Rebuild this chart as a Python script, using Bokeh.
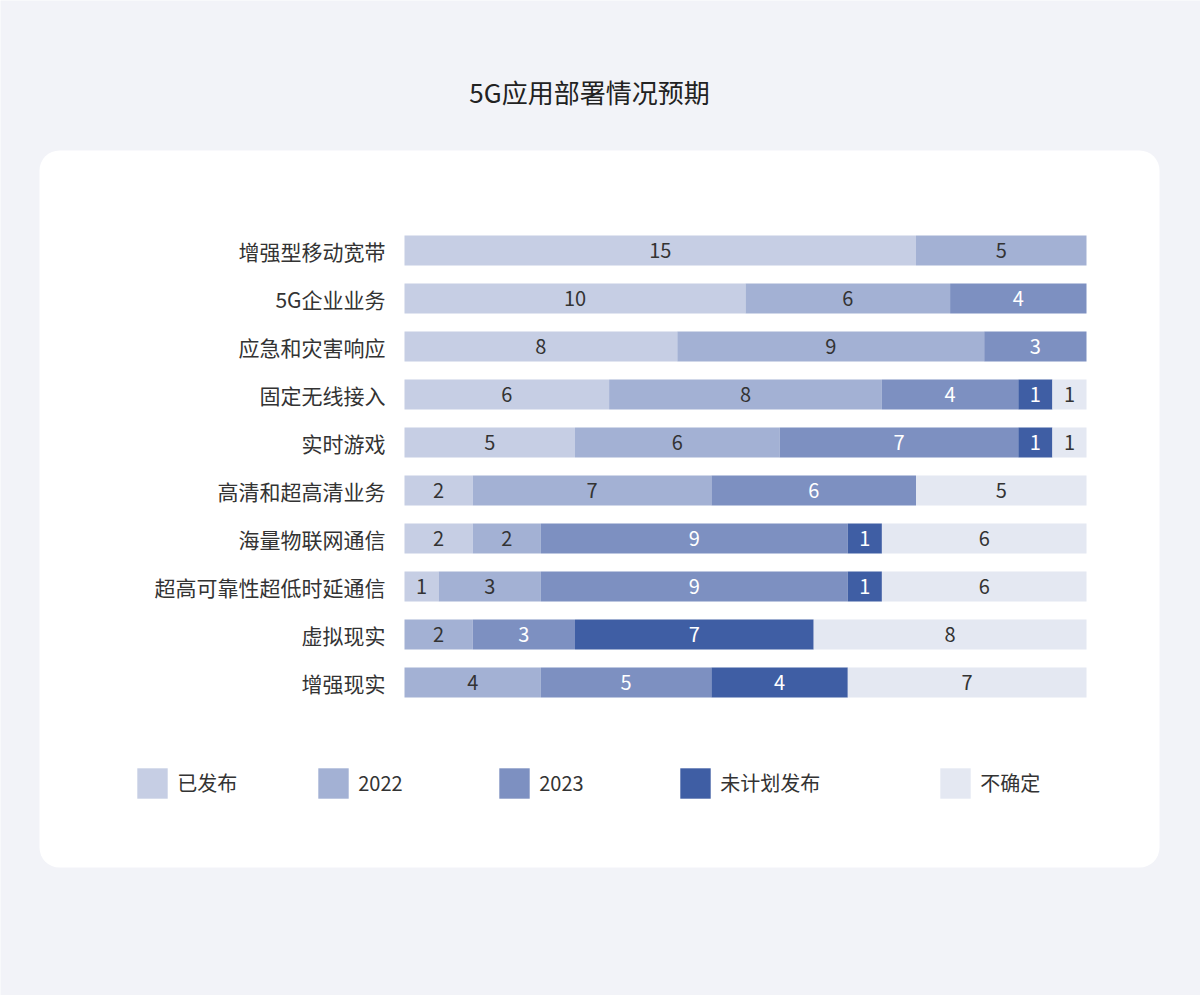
from bokeh.plotting import figure
from bokeh.models import ColumnDataSource, Range1d, BoxAnnotation, Label, Legend, LegendItem
from bokeh.core.properties import value
from bokeh.embed import file_html
from bokeh.resources import INLINE

FONT = "Noto Sans CJK SC"

categories = ["增强型移动宽带", "5G企业业务", "应急和灾害响应", "固定无线接入", "实时游戏",
              "高清和超高清业务", "海量物联网通信", "超高可靠性超低时延通信", "虚拟现实", "增强现实"]
series = ["已发布", "2022", "2023", "未计划发布", "不确定"]
released = [15, 10, 8, 6, 5, 2, 2, 1, 0, 0]
y2022 = [5, 6, 9, 8, 6, 7, 2, 3, 2, 4]
y2023 = [0, 4, 3, 4, 7, 6, 9, 9, 3, 5]
unplanned = [0, 0, 0, 1, 1, 0, 1, 1, 7, 4]
uncertain = [0, 0, 0, 1, 1, 5, 6, 6, 8, 7]
colors = ["#c6cee4", "#a3b1d4", "#7d90c1", "#3f5ea4", "#e4e8f2"]
text_colors = ["#333333", "#333333", "#ffffff", "#ffffff", "#333333"]
title_text = "5G应用部署情况预期"

# layout (pixels)
W, H = 1200, 995
BAR_LEFT, BAR_RIGHT, X_MAX = 404, 1086, 20
ROW0, ROW_STEP = 250, 48
ppu = (BAR_RIGHT - BAR_LEFT) / X_MAX

values = [released, y2022, y2023, unplanned, uncertain]
data = {"cat": categories, "pos": list(range(len(categories)))}
for s, v in zip(series, values):
    data[s] = v
source = ColumnDataSource(data)

x_range = Range1d((0 - BAR_LEFT) / ppu, (W - BAR_LEFT) / ppu)
y_range = Range1d((H - ROW0) / ROW_STEP, (0 - ROW0) / ROW_STEP)

p = figure(width=W, height=H, output_backend="svg", toolbar_location=None, title=None,
           x_range=x_range, y_range=y_range, x_axis_location=None, y_axis_location=None,
           min_border=0)
p.background_fill_color = "#f2f3f8"
p.border_fill_color = "#f2f3f8"
p.outline_line_color = None
p.grid.visible = False

# card
card = BoxAnnotation(left=39, right=1159, top=H - 150, bottom=H - 867,
                     left_units="screen", right_units="screen", top_units="screen", bottom_units="screen",
                     fill_color="#ffffff", fill_alpha=1.0, line_color=None, border_radius=20, level="underlay")
p.add_layout(card)

renderers = p.hbar_stack(series, y="pos", height=0.625, color=colors, line_color=None, source=source)

# category labels
p.text(x=0, y="pos", text="cat", source=source, x_offset=-19, text_align="right", text_baseline="middle",
       text_font=value(FONT), text_font_size="21px", text_color="#333333")

# segment labels
lx, ly, lt, lc = [], [], [], []
for i in range(len(categories)):
    start = 0
    for k, v in enumerate(values):
        val = v[i]
        if val > 0:
            lx.append(start + val / 2)
            ly.append(i)
            lt.append(str(val))
            lc.append(text_colors[k])
        start += val
p.text(x="x", y="y", text="t", text_color="c", source=ColumnDataSource(dict(x=lx, y=ly, t=lt, c=lc)),
       text_align="center", text_baseline="middle", text_font=value(FONT), text_font_size="20px")

p.add_layout(Label(x=589, y=H - 91, x_units="screen", y_units="screen", text=title_text,
                   text_align="center", text_baseline="middle", text_font=FONT,
                   text_font_size="26px", text_color="#222222"))

GW = 38  # legend area glyphs are drawn inset by 10% on each side
inset = GW * 0.1
legend_x = [137, 318, 499, 680, 940]
for s, r, lxpos in zip(series, renderers, legend_x):
    lg = Legend(items=[LegendItem(label=s, renderers=[r])], location=(lxpos - inset, H - 798 - inset),
                orientation="horizontal", glyph_width=GW, glyph_height=GW, label_standoff=6,
                padding=0, margin=0, border_line_color=None, background_fill_alpha=0,
                label_text_font=FONT, label_text_font_size="20px", label_text_color="#333333",
                label_height=GW)
    p.add_layout(lg, "center")

html = file_html(p, INLINE)
open("out.html", "w").write(html)
